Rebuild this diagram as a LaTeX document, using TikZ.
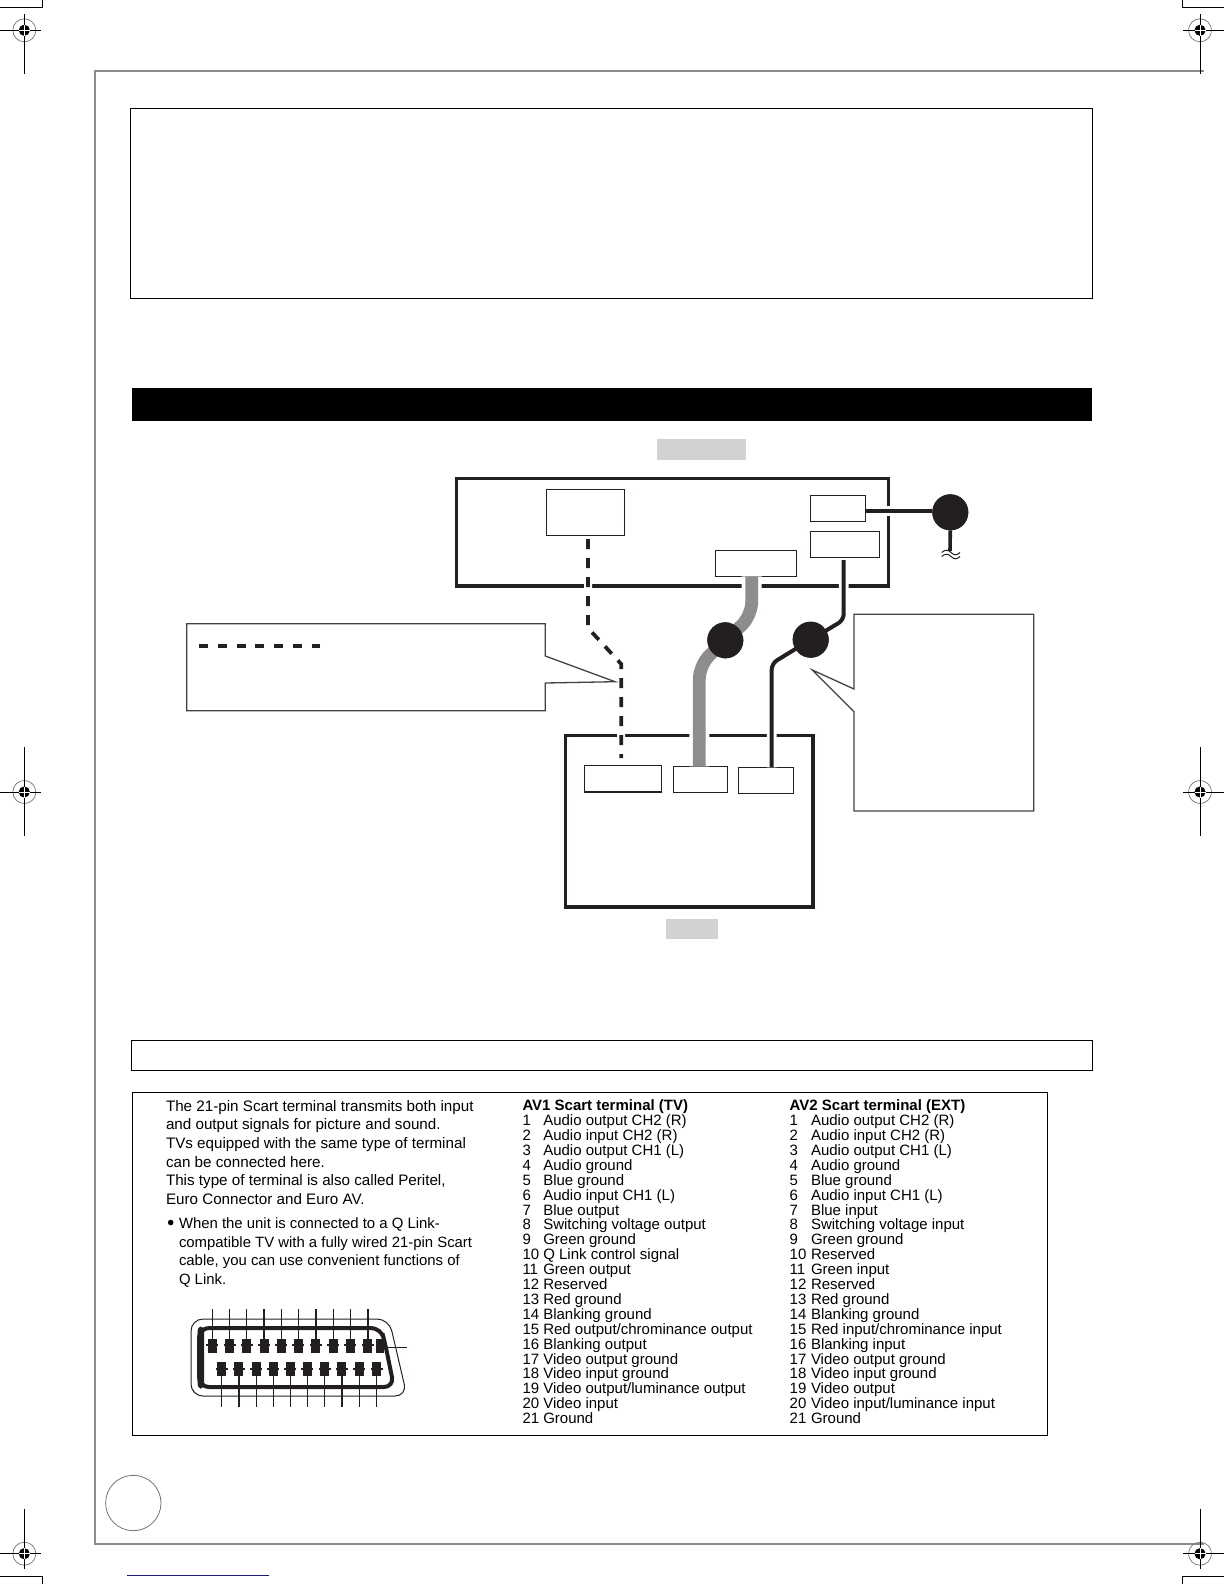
\documentclass[tikz,border=0pt]{standalone}
\usepackage{fontspec}
\setmainfont{Liberation Sans}
\usetikzlibrary{calc}
\definecolor{ink}{HTML}{231F20}
\definecolor{cablegrey}{HTML}{8E8C8D}
\definecolor{framegrey}{HTML}{8C8C8C}
\definecolor{patch}{HTML}{D2D2D2}
\definecolor{navyrule}{HTML}{1A1A7A}
\tikzset{
  unitframe/.style={draw=ink,line width=1.6pt},
  portbox/.style={draw=ink,fill=white,line width=.65pt,inner sep=0pt,outer sep=0pt},
  plug/.style={circle,fill=ink,inner sep=0pt,outer sep=0pt,minimum size=18pt},
  callout/.style={draw=ink!85,line width=.65pt,fill=white},
  greycable/.style={cablegrey,line width=6.4pt,rounded corners=7pt,preaction={draw=white,solid,line width=10pt}},
  blackcable/.style={ink,line width=2pt,rounded corners=3pt,preaction={draw=white,solid,line width=4.8pt}},
  dashcable/.style={ink,line width=1.85pt,dash pattern=on 5pt off 4.5pt,preaction={draw=white,solid,line width=4pt}},
  txt/.style={anchor=base west,inner sep=0pt,outer sep=0pt,font=\fontsize{7.6}{9}\selectfont,text=black},
  note/.style={txt,font=\fontsize{7.45}{9}\selectfont},
  cell/.style={txt,font=\fontsize{7.5}{9}\selectfont},
  hdr/.style={txt,font=\fontsize{7.5}{9}\selectfont\bfseries}
}
\begin{document}
\begin{tikzpicture}[x=.5pt,y=-.5pt,line cap=butt]
  \useasboundingbox (0,0) rectangle (1224,1584);

  \draw[framegrey,line width=1pt] (1203.7,70.7)--(94.5,70.7)--(94.5,1544)--(1203.7,1544);
  \foreach \x/\y/\l/\r/\t/\b in {24.3/30.3/-24/17/-16/44,1200/30.3/-17/24/-16/44,
    24.3/792/-24/17/-45/44,1200/792/-17/24/-45/44,24.3/1553.7/-24/17/-45/15,1200/1553.7/-17/24/-45/15}{
    \begin{scope}[shift={(\x,\y)}]
      \draw[black!55,line width=.35pt] (0,0) circle (5.75pt);
      \draw[black,line width=.5pt] (\l,0)--(\r,0) (0,\t)--(0,\b);
      \fill[black] (0,0) circle (2.8pt);
      \draw[white,line width=.3pt] (-5.5,0)--(5.5,0) (0,-5.5)--(0,5.5);
    \end{scope}
  }
  \draw[black,line width=.5pt] (0,8)--(42.5,8)--(42.5,0);
  \draw[black,line width=.5pt] (1224,8)--(1182,8)--(1182,0);
  \draw[black,line width=.5pt] (0,1576.7)--(42.5,1576.7)--(42.5,1584);
  \draw[black,line width=.5pt] (1224,1576.7)--(1182,1576.7)--(1182,1584);

  \draw[black,line width=.5pt] (130.5,108.5) rectangle (1092.5,298);
  \fill[black] (132.3,387.8) rectangle (1091.7,421);
  \fill[patch] (657,439.3) rectangle (746,460);
  \fill[patch] (666,919.3) rectangle (718,939.3);

  \draw[unitframe] (456.7,478.3) rectangle (888.3,586);
  \draw[unitframe] (565.5,735.3) rectangle (813,907);

  \node[portbox,minimum width=39pt,minimum height=23pt] (tuner) at (585.3,512.3) {};
  \node[portbox,minimum width=27.7pt,minimum height=13pt] (mains) at (838,508.3) {};
  \node[portbox,minimum width=34.7pt,minimum height=13.2pt] (rfout) at (845,544.5) {};
  \node[portbox,minimum width=40.7pt,minimum height=13pt] (avout) at (756,563.3) {};
  \node[portbox,minimum width=38.7pt,minimum height=13.3pt] (tvaerial) at (623,778.7) {};
  \node[portbox,minimum width=27.2pt,minimum height=13pt] (tvscart) at (700.5,779.3) {};
  \node[portbox,minimum width=27.7pt,minimum height=13pt] (tvrf) at (766,780.3) {};

  \node[plug] (plugc) at (950.3,512.3) {};
  \node[plug] (pluga) at (725.3,640.3) {};
  \node[plug] (plugb) at (810.7,639.7) {};

  \coordinate (mainstap) at (865.7,510.7);
  \draw[greycable] (751.7,576.3)--(751.7,616)--(pluga.center)--(699.3,665)--(699.3,766.3);
  \draw[blackcable] (843.7,560)--(843.7,620)--(plugb.center)--(771.7,663.5)--(771.7,767.3);
  \draw[dashcable] (588,539)--(588,628)--(621.2,664)--(621.2,758);
  \draw[blackcable,rounded corners=0pt] (mainstap)--(plugc.west |- mainstap);
  \node[plug] (plugatop) at (pluga) {};
  \node[plug] (plugbtop) at (plugb) {};
  \node[plug] (plugctop) at (plugc) {};
  \node[portbox,minimum width=27.7pt,minimum height=13pt] (mainstop) at (mains) {};

  \coordinate (mainsend) at (950,551);
  \draw[ink,line width=1.8pt] (plugc.south)--(mainsend);
  \foreach \y in {552.5,556.5}{
    \draw[ink,line width=.5pt] (941.7,\y) .. controls (945,\y-3) and (948,\y-3) .. (951,\y)
      .. controls (954,\y+3) and (957,\y+3) .. (960,\y);
  }

  \draw[callout] (186.7,623.7)--(545.3,623.7)--(545.3,656)--(615,681.7)--(545.3,683)--(545.3,710.7)--(186.7,710.7)--cycle;
  \coordinate (legendstart) at (199.3,646);
  \coordinate (legendend) at (320,646);
  \draw[ink,line width=1.75pt,dash pattern=on 4.5pt off 4.85pt] (legendstart)--(legendend);
  \draw[callout] (854,614.3)--(1033.7,614.3)--(1033.7,811)--(854,811)--(854,711.7)--(812.3,670)--(854,689)--cycle;

  \draw[black,line width=.5pt] (131.3,1040) rectangle (1092.7,1070);
  \draw[black,line width=.5pt] (132.3,1092.3) rectangle (1047.3,1435);

  \foreach \t [count=\i] in {The 21-pin Scart terminal transmits both input,
    and output signals for picture and sound.,TVs equipped with the same type of terminal,
    can be connected here.,{This type of terminal is also called Peritel,},Euro Connector and Euro AV.}{
    \node[txt] (intro\i) at (166,1111+18.7*\i-18.7) {\t};
  }
  \fill[black] (170.7,1222.5) circle (1.4pt);
  \foreach \t [count=\i] in {When the unit is connected to a Q Link-,compatible TV with a fully wired 21-pin Scart,
    {cable, you can use convenient functions of},Q Link.}{
    \node[note] (qlink\i) at (179,1228.7+18.5*\i-18.5) {\t};
  }

  \node[hdr] (avonehdr) at (522.5,1110.7) {AV1 Scart terminal (TV)};
  \foreach \t [count=\i] in {Audio output CH2 (R),Audio input CH2 (R),Audio output CH1 (L),Audio ground,
    Blue ground,Audio input CH1 (L),Blue output,Switching voltage output,Green ground,Q Link control signal,
    Green output,Reserved,Red ground,Blanking ground,Red output/chrominance output,Blanking output,
    Video output ground,Video input ground,Video output/luminance output,Video input,Ground}{
    \node[cell] (avonenum\i) at (522.5,1110.7+14.9*\i) {\i};
    \node[cell] (avone\i) at (543.3,1110.7+14.9*\i) {\t};
  }
  \node[hdr] (avtwohdr) at (789.7,1110.7) {AV2 Scart terminal (EXT)};
  \foreach \t [count=\i] in {Audio output CH2 (R),Audio input CH2 (R),Audio output CH1 (L),Audio ground,
    Blue ground,Audio input CH1 (L),Blue input,Switching voltage input,Green ground,Reserved,
    Green input,Reserved,Red ground,Blanking ground,Red input/chrominance input,Blanking input,
    Video output ground,Video input ground,Video output,Video input/luminance input,Ground}{
    \node[cell] (avtwonum\i) at (789.7,1110.7+14.9*\i) {\i};
    \node[cell] (avtwo\i) at (811,1110.7+14.9*\i) {\t};
  }

  \draw[ink,line width=.5pt,rounded corners=6pt] (191,1319)--(389,1319)--(407,1396)--(191,1396)--cycle;
  \draw[ink,line width=2pt,rounded corners=5pt] (199,1328)--(381,1328)--(385,1343)--(394,1387)--(199,1387)--cycle;
  \fill[ink,rounded corners=2pt] (197.5,1326.5) rectangle (204,1388.5);
  \foreach \x/\w in {212.3/.8,229.7/.5,246.7/.5,264/.8,281.3/.5,298.3/.5,315.7/.8,333.3/.5,350.3/.5,367.7/.8}{
    \draw[ink,line width=\w pt] (\x,1309)--(\x,1340);
    \fill[ink] (\x-4.5,1339) rectangle (\x+4.5,1353);
    \draw[ink,line width=.6pt] (\x-6,1345)--(\x+6,1345);
  }
  \foreach \x/\w in {221.7/.5,238.7/.8,256/.5,273.3/.5,290.3/.8,307.3/.5,324.7/.5,341.7/.8,359.3/.5,376.7/.5}{
    \draw[ink,line width=\w pt] (\x,1370)--(\x,1407);
    \fill[ink] (\x-4.5,1362) rectangle (\x+4.5,1376);
    \draw[ink,line width=.6pt] (\x-6,1369)--(\x+6,1369);
  }
  \fill[ink] (376,1339) rectangle (384,1353);
  \draw[ink,line width=.5pt] (380,1347.7)--(407.3,1347.7);

  \draw[black!55,line width=.4pt] (133.3,1503) circle (13.85pt);
  \draw[navyrule,line width=.5pt] (127,1575.3)--(268.7,1575.3);
\end{tikzpicture}
\end{document}
